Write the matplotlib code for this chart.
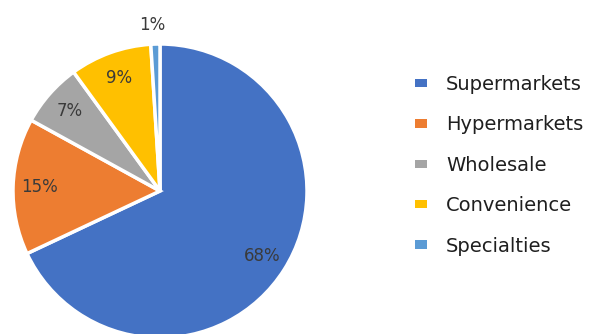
import matplotlib.pyplot as plt
from matplotlib.patches import Patch

# Retail channel shares
channels = ['Supermarkets', 'Hypermarkets', 'Wholesale', 'Convenience', 'Specialties']
shares = [68, 15, 7, 9, 1]
colors = ['#4472C4', '#ED7D31', '#A5A5A5', '#FFC000', '#5B9BD5']

W, H = 607, 334
fig = plt.figure(figsize=(W / 100, H / 100), dpi=100)

# pie: centre at (160, 191) px from top-left, radius 147 px
cx, cy, r = 160, 191, 147
ax = fig.add_axes([(cx - r) / W, (H - cy - r) / H, 2 * r / W, 2 * r / H])

wedges, texts, autotexts = ax.pie(
    shares, colors=colors, startangle=90, counterclock=False,
    autopct='%1.0f%%', pctdistance=0.82,
    wedgeprops=dict(edgecolor='white', linewidth=2.5),
    textprops=dict(color='#3a3a3a', fontsize=12),
)

# the tiny slice gets its label outside the pie
autotexts[-1].set_position((-0.05, 1.13))

ax.set_xlim(-1, 1)
ax.set_ylim(-1, 1)
ax.set_aspect('equal')
ax.axis('off')

handles = [Patch(facecolor=c, edgecolor='none') for c in colors]
fig.legend(handles, channels, loc='center left',
           bbox_to_anchor=(415 / W, 0.505), frameon=False,
           fontsize=14, labelcolor='#1f1f1f',
           handlelength=0.6, handleheight=0.28, handletextpad=1.0,
           labelspacing=1.1, borderpad=0, borderaxespad=0)

fig.savefig('out.png', dpi=100)
